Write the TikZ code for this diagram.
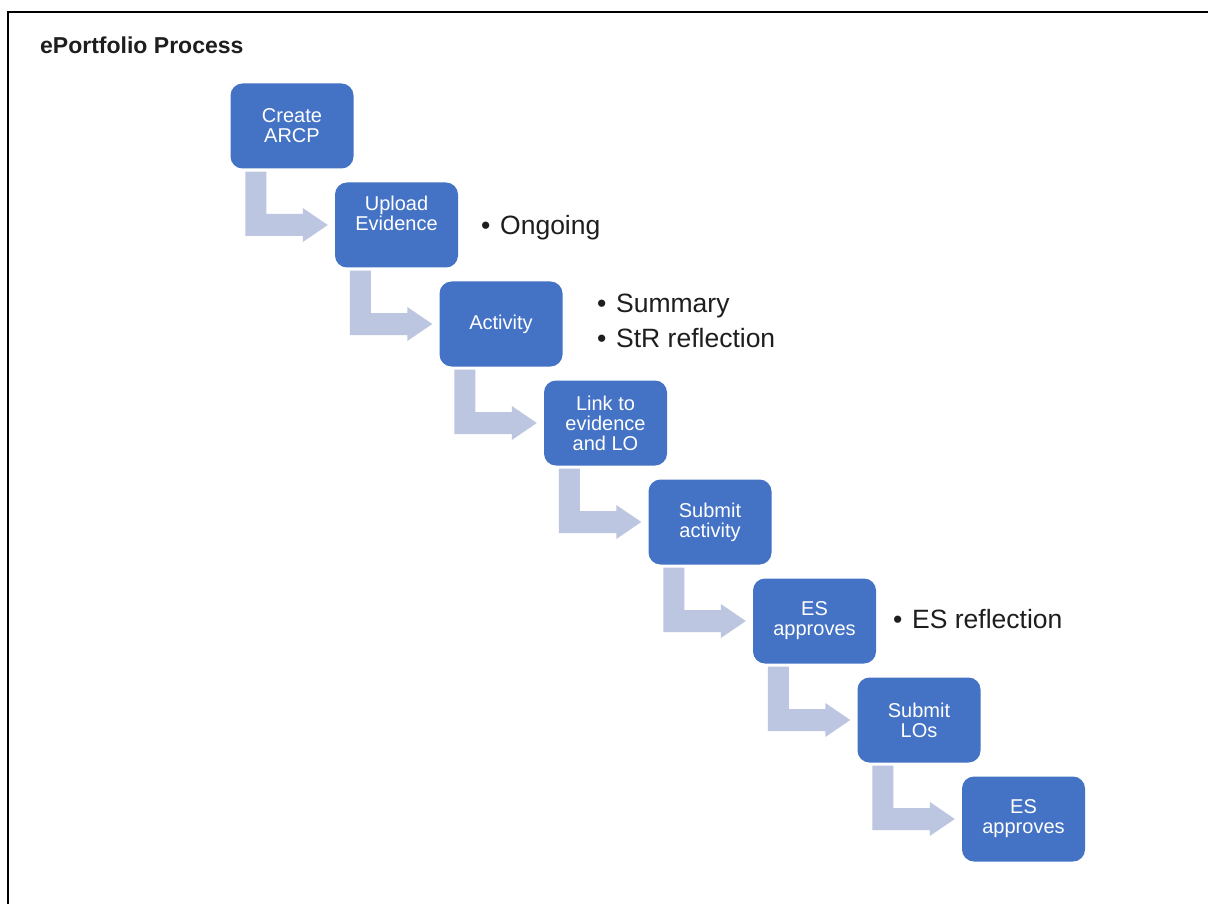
\documentclass[tikz,border=0pt]{standalone}
\usepackage{fontspec}
\setmainfont{Liberation Sans}
\usetikzlibrary{calc}
\definecolor{boxblue}{HTML}{4472C4}
\definecolor{arrowfill}{HTML}{BCC6E0}
\definecolor{bullettext}{HTML}{1E1E1E}
\tikzset{
  stepbox/.style={draw=none, fill=boxblue, rounded corners=12pt, minimum width=123pt, minimum height=85pt, inner sep=0pt},
  boxtext/.style={text=white, align=center, font=\fontsize{20pt}{20pt}\selectfont},
  bulletlist/.style={text=bullettext, align=left, anchor=base west, inner sep=0pt, font=\fontsize{26.5pt}{35pt}\selectfont},
  titletext/.style={anchor=base west, inner sep=0pt, font=\fontsize{23pt}{26pt}\selectfont\bfseries, text=bullettext},
  framerule/.style={line width=2.5pt, black}
}
\newcommand\steparrow[2]{%
  \fill[arrowfill] let \p1=(#1.south west), \p2=(#2.west) in
    (\x1+15pt,\y1-3pt) -- (\x1+36pt,\y1-3pt) -- (\x1+36pt,\y2+11pt) --
    (\x2-32pt,\y2+11pt) -- (\x2-32pt,\y2+17pt) -- (\x2-7pt,\y2) --
    (\x2-32pt,\y2-17pt) -- (\x2-32pt,\y2-11pt) -- (\x1+15pt,\y2-11pt) -- cycle;}
\newcommand\bul[1]{\makebox[19pt][l]{•}#1}
\begin{document}
\begin{tikzpicture}[x=1pt,y=-1pt]
\useasboundingbox (0,0) rectangle (1208,904);
\fill[white] (0,0) rectangle (1208,904);
\draw[framerule] (7.8,904) -- (7.8,11.8) -- (1208,11.8);

\node[titletext] (title) at (40,54) {ePortfolio Process};

\node[stepbox, boxtext] (b1) at (292,126) {Create\\ARCP};
\node[stepbox, label={[boxtext, yshift=11.5pt]center:Upload\\Evidence}] (b2) at (396.5,225) {};
\node[stepbox, boxtext] (b3) at (501,324) {Activity};
\node[stepbox, boxtext] (b4) at (605.5,423) {Link to\\evidence\\and LO};
\node[stepbox, boxtext] (b5) at (710,522) {Submit\\activity};
\node[stepbox, boxtext] (b6) at (814.5,621) {ES\\approves};
\node[stepbox, boxtext] (b7) at (919,720) {Submit\\LOs};
\node[stepbox, boxtext] (b8) at (1023.5,819) {ES\\approves};

\steparrow{b1}{b2}
\steparrow{b2}{b3}
\steparrow{b3}{b4}
\steparrow{b4}{b5}
\steparrow{b5}{b6}
\steparrow{b6}{b7}
\steparrow{b7}{b8}

\node[bulletlist] (l2) at (481,235) {\bul{Ongoing}};
\node[bulletlist] (l3) at (597,347) {\bul{Summary}\\\bul{StR reflection}};
\node[bulletlist] (l6) at (893,628) {\bul{ES reflection}};
\end{tikzpicture}
\end{document}
